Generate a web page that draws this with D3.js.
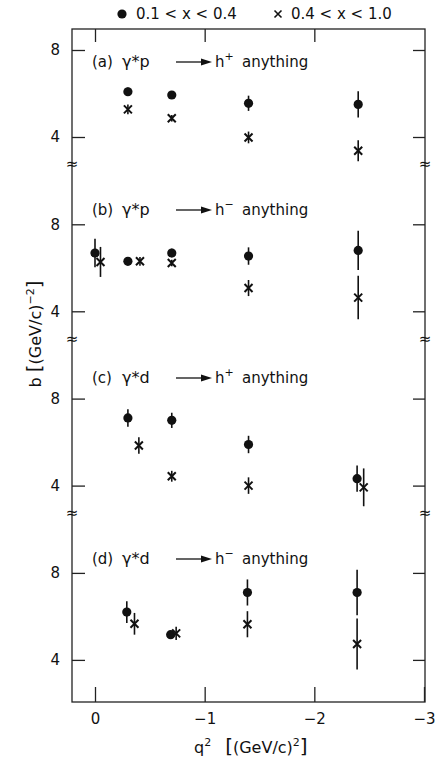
<!DOCTYPE html>
<html>
<head>
<meta charset="utf-8">
<script src="https://cdn.jsdelivr.net/npm/d3@7"></script>
<style>
body { margin: 0; background: #fff; }
text { font-family: "DejaVu Sans", sans-serif; fill: #111; }
</style>
</head>
<body>
<div id="chart"></div>
<script>
var q2Ticks = [0, -1, -2, -3];
var bTicks = [4, 8];
var panelTags = ["(a)", "(b)", "(c)", "(d)"];
var panelTargets = ["p", "p", "d", "d"];
var panelCharges = ["+", "\u2212", "+", "\u2212"];

// each point: [q2, b, error]  -- dots: 0.1<x<0.4, crosses: 0.4<x<1.0
var lowA  = [[-0.3, 6.08, 0.2], [-0.7, 5.93, 0.1], [-1.4, 5.55, 0.35], [-2.4, 5.5, 0.6]];
var highA = [[-0.3, 5.27, 0.22], [-0.7, 4.86, 0.15], [-1.4, 3.98, 0.27], [-2.4, 3.37, 0.48]];
var lowB  = [[0, 6.68, 0.65], [-0.3, 6.3, 0.15], [-0.7, 6.68, 0.2], [-1.4, 6.54, 0.4], [-2.4, 6.8, 0.9]];
var highB = [[-0.05, 6.27, 0.69], [-0.41, 6.3, 0.2], [-0.7, 6.22, 0.15], [-1.4, 5.07, 0.37], [-2.4, 4.63, 1.0]];
var lowC  = [[-0.3, 7.11, 0.4], [-0.7, 7.0, 0.35], [-1.4, 5.89, 0.4], [-2.39, 4.32, 0.6]];
var highC = [[-0.4, 5.84, 0.38], [-0.7, 4.43, 0.25], [-1.4, 4.0, 0.38], [-2.45, 3.92, 0.87]];
var lowD  = [[-0.29, 6.2, 0.5], [-0.69, 5.16, 0.15], [-1.39, 7.1, 0.6], [-2.39, 7.1, 1.05]];
var highD = [[-0.36, 5.66, 0.5], [-0.74, 5.22, 0.3], [-1.39, 5.64, 0.6], [-2.39, 4.73, 1.17]];

var lowSets = [lowA, lowB, lowC, lowD];
var highSets = [highA, highB, highC, highD];

var width = 435, height = 768;
var frame = {left: 72, right: 425, top: 29, bottom: 702};
var panelStep = 174.3;
var breakValue = 2.75;
var labelBase = [67, 215, 383, 564];

var svg = d3.select("#chart").append("svg")
    .attr("width", width)
    .attr("height", height);

var x = d3.scaleLinear().domain([0, -3]).range([95, 424]);

function yPanel(i) {
    var y8 = 50 + i * panelStep;
    return d3.scaleLinear().domain([4, 8]).range([y8 + 87, y8]);
}

// frame
svg.append("rect")
    .attr("x", frame.left)
    .attr("y", frame.top)
    .attr("width", frame.right - frame.left)
    .attr("height", frame.bottom - frame.top)
    .attr("fill", "none")
    .attr("stroke", "#222")
    .attr("stroke-width", 1.3);

// top / bottom ticks
svg.append("g")
    .attr("class", "axis")
    .attr("transform", "translate(0," + frame.top + ")")
    .call(d3.axisTop(x).tickValues([0, -1, -2]).tickSizeInner(-13).tickSizeOuter(0).tickFormat(""));

svg.append("g")
    .attr("class", "axis")
    .attr("transform", "translate(0," + frame.bottom + ")")
    .call(d3.axisBottom(x).tickValues(q2Ticks).tickSizeInner(-15).tickSizeOuter(0).tickPadding(11)
          .tickFormat(function(d) { return d === 0 ? "0" : "\u2212" + Math.abs(d); }));

svg.selectAll(".axis .domain").remove();
svg.selectAll(".axis line").attr("stroke", "#222").attr("stroke-width", 1.3);
svg.selectAll(".axis text").style("font-size", "15px").attr("fill", "#111")
    .style("font-family", "DejaVu Sans, sans-serif");

var cross = function(s) {
    return "M" + (-s) + "," + (-s) + "L" + s + "," + s + "M" + (-s) + "," + s + "L" + s + "," + (-s);
};

panelTags.forEach(function(tag, i) {
    var y = yPanel(i);
    var g = svg.append("g").attr("class", "panel");

    var left = g.append("g")
        .attr("transform", "translate(" + frame.left + ",0)")
        .call(d3.axisLeft(y).tickValues(bTicks).tickSizeInner(-13).tickSizeOuter(0).tickPadding(12)
              .tickFormat(d3.format("d")));
    g.append("g")
        .attr("transform", "translate(" + frame.right + ",0)")
        .call(d3.axisRight(y).tickValues(bTicks).tickSizeInner(-12).tickSizeOuter(0).tickFormat(""));
    g.selectAll(".domain").remove();
    g.selectAll("line").attr("stroke", "#222").attr("stroke-width", 1.3);
    left.selectAll("text").style("font-size", "15px").style("font-family", "DejaVu Sans, sans-serif").attr("fill", "#111");

    // axis break marks
    if (i < 3) {
        [frame.left, frame.right].forEach(function(px) {
            g.append("text")
                .attr("x", px)
                .attr("y", y(breakValue))
                .attr("dy", "0.35em")
                .attr("text-anchor", "middle")
                .style("font-size", "15px")
                .text("\u2248");
        });
    }

    // panel label
    var lab = g.append("g").attr("transform", "translate(0," + labelBase[i] + ")");
    lab.append("text").attr("x", 92).style("font-size", "15px").text(tag);
    lab.append("text").attr("x", 122).style("font-size", "16px")
        .text("\u03b3*" + panelTargets[i]);
    lab.append("line")
        .attr("x1", 176).attr("x2", 203)
        .attr("y1", -5).attr("y2", -5)
        .attr("stroke", "#111").attr("stroke-width", 1.3);
    lab.append("path")
        .attr("d", "M201,-8.5L212,-5L201,-1.5Z")
        .attr("fill", "#111");
    var h = lab.append("text").attr("x", 215).style("font-size", "15px");
    h.append("tspan").text("h");
    h.append("tspan").attr("dy", -7).style("font-size", "11px").text(panelCharges[i]);
    lab.append("text").attr("x", 242).style("font-size", "15px").text("anything");

    // error bars
    var pts = lowSets[i].concat(highSets[i]);
    g.selectAll(".err")
        .data(pts)
        .enter().append("line")
        .attr("class", "err")
        .attr("x1", function(d) { return x(d[0]); })
        .attr("x2", function(d) { return x(d[0]); })
        .attr("y1", function(d) { return y(d[1] - d[2]); })
        .attr("y2", function(d) { return y(d[1] + d[2]); })
        .attr("stroke", "#111")
        .attr("stroke-width", 1.6);

    g.selectAll(".dot")
        .data(lowSets[i])
        .enter().append("circle")
        .attr("class", "dot")
        .attr("cx", function(d) { return x(d[0]); })
        .attr("cy", function(d) { return y(d[1]); })
        .attr("r", 4.6)
        .attr("fill", "#111");

    g.selectAll(".cross")
        .data(highSets[i])
        .enter().append("path")
        .attr("class", "cross")
        .attr("transform", function(d) { return "translate(" + x(d[0]) + "," + y(d[1]) + ")"; })
        .attr("d", cross(4))
        .attr("stroke", "#111")
        .attr("stroke-width", 2);
});

// legend
var legend = svg.append("g").attr("class", "legend");
legend.append("circle").attr("cx", 122).attr("cy", 14).attr("r", 4.6).attr("fill", "#111");
legend.append("text").attr("x", 136).attr("y", 19).style("font-size", "15px").text("0.1 < x < 0.4");
legend.append("path").attr("transform", "translate(278,14)").attr("d", cross(3.5))
    .attr("stroke", "#111").attr("stroke-width", 1.6);
legend.append("text").attr("x", 291).attr("y", 19).style("font-size", "15px").text("0.4 < x < 1.0");

// axis titles
var xt = svg.append("text").attr("x", 194).attr("y", 753).style("font-size", "16px");
xt.append("tspan").text("q");
xt.append("tspan").attr("dy", -7).style("font-size", "11px").text("2");
xt.append("tspan").attr("dy", 7).attr("dx", 14).style("font-size", "20px").text("[");
xt.append("tspan").text("(GeV/c)");
xt.append("tspan").attr("dy", -7).style("font-size", "11px").text("2");
xt.append("tspan").attr("dy", 7).style("font-size", "20px").text("]");

var yt = svg.append("text")
    .attr("transform", "translate(41,334) rotate(-90)")
    .attr("text-anchor", "middle")
    .style("font-size", "16px");
yt.append("tspan").text("b ");
yt.append("tspan").style("font-size", "20px").text("[");
yt.append("tspan").text("(GeV/c)");
yt.append("tspan").attr("dy", -7).style("font-size", "11px").text("\u22122");
yt.append("tspan").attr("dy", 7).style("font-size", "20px").text("]");
</script>
</body>
</html>
